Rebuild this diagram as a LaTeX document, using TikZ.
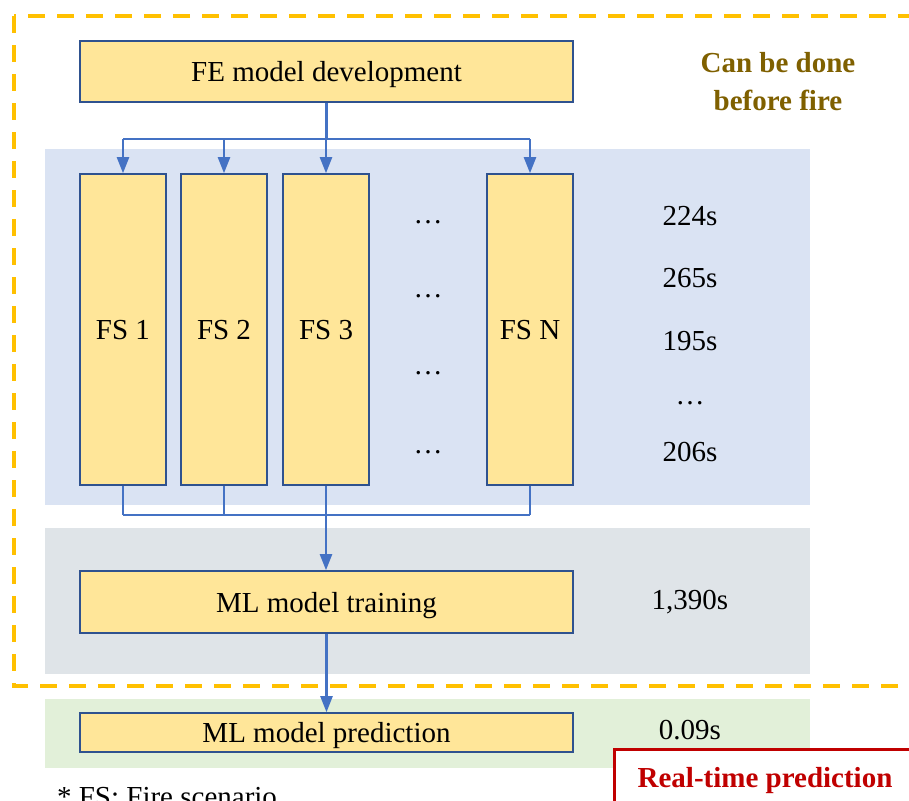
\documentclass[tikz,border=0pt]{standalone}
\usepackage{fontspec}
\setmainfont{Liberation Serif}
\usepackage{xcolor}
\usepackage{tikz}
\usetikzlibrary{arrows.meta, positioning, calc}
\definecolor{fsyellow}{HTML}{FFE699}
\definecolor{fsborder}{HTML}{2F528F}
\definecolor{fsarrow}{HTML}{4472C4}
\definecolor{fsblue}{HTML}{DAE3F3}
\definecolor{fsgray}{HTML}{DFE4E8}
\definecolor{fsgreen}{HTML}{E2F0D9}
\definecolor{fsorange}{HTML}{FFC000}
\definecolor{fsgold}{HTML}{7F6000}
\definecolor{fsred}{HTML}{C00000}

\tikzset{
  box/.style={draw=fsborder, fill=fsyellow, line width=0.8pt, inner sep=0pt,
    text height=14pt, text depth=3.6pt},
  wire/.style={draw=fsarrow, line width=1.2pt},
  arrow/.style={wire, -{Triangle[width=6pt, length=8pt]}},
  txt/.style={font=\fontsize{14.5}{17}\selectfont}
}

\begin{document}
\begin{tikzpicture}[x=0.5pt, y=-0.5pt, txt]
  \clip (0,0) rectangle (909,800);

  % Shaded bands
  \fill[fsblue] (45,149) rectangle (810,505);
  \fill[fsgray] (45,528) rectangle (810,674);
  \fill[fsgreen] (45,699) rectangle (810,768);

  % Dashed frame
  \draw[fsorange, line width=1.8pt, dash pattern=on 8.5pt off 6pt] (14,16) rectangle (940,686);

  % Boxes
  \node[box, minimum width=246.5pt, minimum height=30.5pt] (fe) at (326.5,71.5) {FE model development};
  \foreach \n/\x/\t in {fs1/123/FS 1, fs2/224/FS 2, fs3/326/FS 3, fsn/530/FS N} {
    \node[box, minimum width=43pt, minimum height=155.5pt] (\n) at (\x,329.5) {\t};
  }
  \node[box, minimum width=246.5pt, minimum height=31pt] (train) at (326.5,602) {ML model training};
  \node[box, minimum width=246.5pt, minimum height=19.5pt] (pred) at (326.5,732.5) {ML model prediction};

  % Dots between FS 3 and FS N
  \foreach \y [count=\i] in {222,296,373,452} {
    \node (gap\i) at (428,\y) {…};
  }

  % Times
  \node (t1) at (690,216) {224s};
  \node (t2) at (690,278) {265s};
  \node (t3) at (690,341) {195s};
  \node (t4) at (690,403) {…};
  \node (t5) at (690,452) {206s};
  \node (ttrain) at (690,602) {1,390s};
  \node (tpred) at (690,730) {0.09s};

  % Connectors
  \coordinate (topbus) at (326,139);
  \coordinate (botbus) at (326,515);
  \draw[wire] (fe.south) -- (fe.south |- topbus);
  \draw[wire] (fs1.north |- topbus) -- (fsn.north |- topbus);
  \foreach \n in {fs1,fs2,fs3,fsn} {
    \draw[arrow] (\n.north |- topbus) -- (\n.north);
  }
  \foreach \n in {fs1,fs2,fsn} {
    \draw[wire] (\n.south) -- (\n.south |- botbus);
  }
  \draw[wire] (fs1.south |- botbus) -- (fsn.south |- botbus);
  \draw[arrow] (fs3.south) -- (fs3.south |- train.north);
  \draw[arrow] (train.south) -- (pred.north);

  % Notes
  \node[font=\fontsize{14.5}{19}\bfseries, text=fsgold, align=center] (before) at (778,82) {Can be done\\before fire};
  \node[draw=fsred, fill=white, line width=1.5pt, minimum width=151pt, minimum height=28pt,
        text height=14pt, text depth=3.6pt,
        text=fsred, font=\fontsize{14.5}{17}\bfseries] (realtime) at (765,777) {Real-time prediction};
  \node[anchor=base west] (note) at (50,806) {* FS: Fire scenario};
\end{tikzpicture}
\end{document}
